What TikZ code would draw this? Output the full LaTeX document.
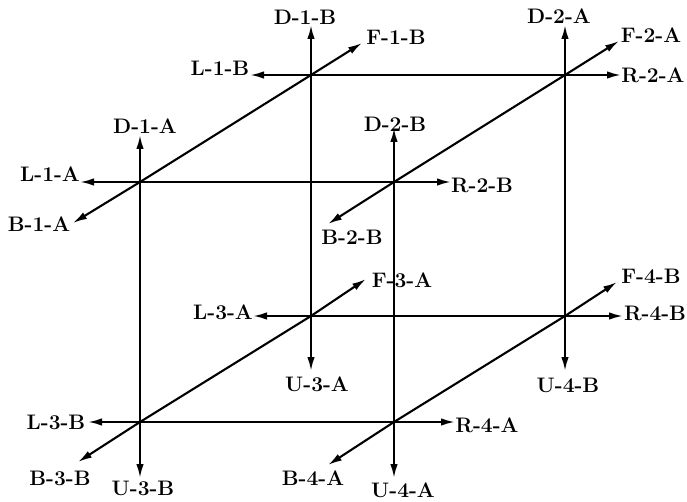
\documentclass[tikz,border=0pt]{standalone}
\usetikzlibrary{arrows.meta}
\begin{document}
\begin{tikzpicture}[x=1pt,y=-1pt,
  edge/.style={line width=2.1pt},
  arr/.style={line width=2.1pt,-{Latex[length=14pt,width=7.5pt]}},
  lab/.style={font=\fontsize{21}{24}\selectfont\bfseries,inner sep=0pt}]
\useasboundingbox (0,0) rectangle (687,502);
% cube vertices
\coordinate (v1A) at (140,182);
\coordinate (v2B) at (394,182);
\coordinate (v3B) at (140,422);
\coordinate (v4A) at (394,422);
\coordinate (v1B) at (311,75);
\coordinate (v2A) at (565,75);
\coordinate (v3A) at (311,316);
\coordinate (v4B) at (565,316);
% arrow tips
\coordinate (tL1A) at (80,182);  \coordinate (tD1A) at (140,135); \coordinate (tB1A) at (73,223);
\coordinate (tL1B) at (250,75);  \coordinate (tD1B) at (311,25);  \coordinate (tF1B) at (362,43);
\coordinate (tR2A) at (621,75);  \coordinate (tD2A) at (565,25);  \coordinate (tF2A) at (619,41);
\coordinate (tR2B) at (451,182); \coordinate (tD2B) at (394,128); \coordinate (tB2B) at (328,224);
\coordinate (tL3A) at (253,316); \coordinate (tU3A) at (311,371); \coordinate (tF3A) at (366,279);
\coordinate (tL3B) at (88,422);  \coordinate (tU3B) at (140,478); \coordinate (tB3B) at (78,462);
\coordinate (tR4A) at (455,422); \coordinate (tU4A) at (394,478); \coordinate (tB4A) at (328,465);
\coordinate (tR4B) at (623,316); \coordinate (tU4B) at (565,371); \coordinate (tF4B) at (617,282);
% edges
\draw[edge] (v1A) -- (v2B) -- (v4A) -- (v3B) -- cycle;
\draw[edge] (v1B) -- (v2A) -- (v4B) -- (v3A) -- cycle;
\draw[edge] (v1A) -- (v1B);
\draw[edge] (v2B) -- (v2A);
\draw[edge] (v3B) -- (v3A);
\draw[edge] (v4A) -- (v4B);
% arrows
\draw[arr] (v1A) -- (tL1A); \draw[arr] (v1A) -- (tD1A); \draw[arr] (v1A) -- (tB1A);
\draw[arr] (v1B) -- (tL1B); \draw[arr] (v1B) -- (tD1B); \draw[arr] (v1B) -- (tF1B);
\draw[arr] (v2A) -- (tR2A); \draw[arr] (v2A) -- (tD2A); \draw[arr] (v2A) -- (tF2A);
\draw[arr] (v2B) -- (tR2B); \draw[arr] (v2B) -- (tD2B); \draw[arr] (v2B) -- (tB2B);
\draw[arr] (v3A) -- (tL3A); \draw[arr] (v3A) -- (tU3A); \draw[arr] (v3A) -- (tF3A);
\draw[arr] (v3B) -- (tL3B); \draw[arr] (v3B) -- (tU3B); \draw[arr] (v3B) -- (tB3B);
\draw[arr] (v4A) -- (tR4A); \draw[arr] (v4A) -- (tU4A); \draw[arr] (v4A) -- (tB4A);
\draw[arr] (v4B) -- (tR4B); \draw[arr] (v4B) -- (tU4B); \draw[arr] (v4B) -- (tF4B);
% labels
\node[lab] (D1B) at (305,17) {D-1-B};
\node[lab] (L1B) at (220,68) {L-1-B};
\node[lab] (F1B) at (396,37) {F-1-B};
\node[lab] (D1A) at (145,126) {D-1-A};
\node[lab] (L1A) at (50,174) {L-1-A};
\node[lab] (B1A) at (39,224) {B-1-A};
\node[lab] (D2A) at (559,16) {D-2-A};
\node[lab] (F2A) at (651,35) {F-2-A};
\node[lab] (R2A) at (653,75) {R-2-A};
\node[lab] (D2B) at (395,124) {D-2-B};
\node[lab] (R2B) at (482,185) {R-2-B};
\node[lab] (B2B) at (352,237) {B-2-B};
\node[lab] (L3A) at (223,312) {L-3-A};
\node[lab] (U3A) at (317,384) {U-3-A};
\node[lab] (F3A) at (402,280) {F-3-A};
\node[lab] (L3B) at (56,422) {L-3-B};
\node[lab] (B3B) at (60,478) {B-3-B};
\node[lab] (U3B) at (143,488) {U-3-B};
\node[lab] (B4A) at (313,478) {B-4-A};
\node[lab] (U4A) at (403,490) {U-4-A};
\node[lab] (R4A) at (487,425) {R-4-A};
\node[lab] (F4B) at (651,276) {F-4-B};
\node[lab] (R4B) at (655,313) {R-4-B};
\node[lab] (U4B) at (568,385) {U-4-B};
\end{tikzpicture}
\end{document}
